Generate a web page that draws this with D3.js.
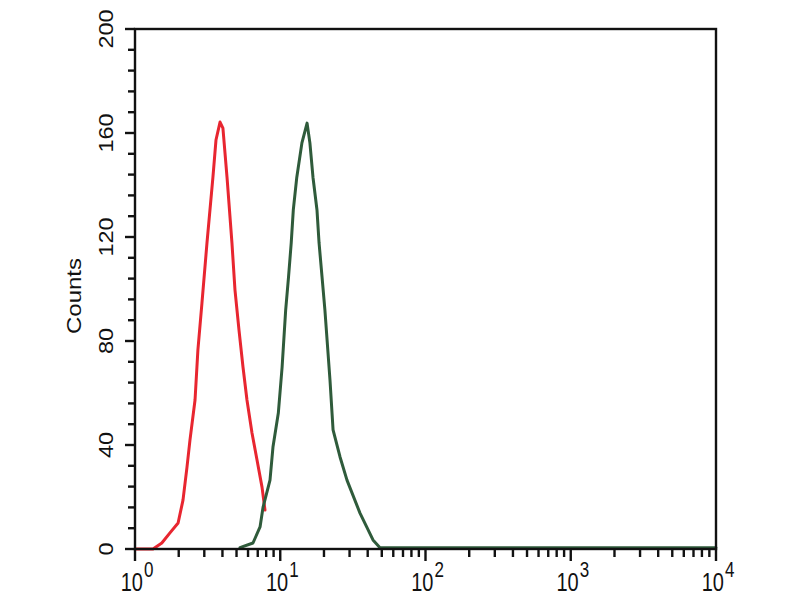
<!DOCTYPE html>
<html>
<head>
<meta charset="utf-8">
<script src="https://cdn.jsdelivr.net/npm/d3@7/dist/d3.min.js"></script>
<style>
  html, body { margin: 0; padding: 0; background: #fff; }
  svg { display: block; font-family: "Liberation Sans", Arial, sans-serif; }
</style>
</head>
<body>
<svg id="chart" width="800" height="600"></svg>
<script>
// Fluorescence intensity (x) and counts (y)
const redX = [1.00, 1.33, 1.53, 1.74, 1.98, 2.14, 2.28, 2.39, 2.59, 2.71, 2.89, 3.13, 3.44, 3.61, 3.85, 4.03, 4.30, 4.65, 4.88, 5.20, 5.54, 5.90, 6.39, 6.92, 7.49, 7.85];
const redY = [0, 0, 2.3, 6.2, 10, 18.8, 31.5, 41.9, 57.3, 76.5, 94.6, 117.7, 143, 157.3, 164.2, 161.9, 143, 117.7, 99.6, 84.2, 70, 57.3, 44.6, 34.2, 23.8, 15];

const greenX = [5.28, 6.49, 7.26, 7.61, 8.50, 8.91, 9.70, 10.3, 10.9, 11.4, 11.9, 12.3, 13.0, 14.1, 15.3, 16.0, 16.8, 17.9, 18.5, 19.4, 20.3, 22.0, 23.1, 25.8, 28.8, 35.4, 43.5, 48.6, 100, 1000, 10000];
const greenY = [0.5, 2.3, 8.5, 16, 26.5, 39.2, 52.3, 70, 92, 104.6, 117.7, 130.4, 143, 156.2, 163.8, 156.2, 143, 130.4, 117.7, 104.6, 91.9, 65, 45.8, 35.4, 26.5, 13.8, 3.5, 0.5, 0.5, 0.5, 0.5];

const yTicks = [0, 40, 80, 120, 160, 200];
const xDecades = [0, 1, 2, 3, 4];
const yLabel = "Counts";

(function () {
const svg = d3.select("#chart");
const pL = 135, pR = 716, pT = 29, pB = 549;

const x = d3.scaleLog().domain([1, 10000]).range([pL, pR]);
const y = d3.scaleLinear().domain([0, 200]).range([pB, pT]);

// Curves
const line = d3.line().x(d => x(d[0])).y(d => y(d[1]));
svg.append("path")
  .datum(redX.map((v, i) => [v, redY[i]]))
  .attr("d", line).attr("fill", "none")
  .attr("stroke", "#e82630").attr("stroke-width", 3)
  .attr("stroke-linejoin", "round").attr("stroke-linecap", "round");
svg.append("path")
  .datum(greenX.map((v, i) => [v, greenY[i]]))
  .attr("d", line).attr("fill", "none")
  .attr("stroke", "#2f5b3b").attr("stroke-width", 3)
  .attr("stroke-linejoin", "round").attr("stroke-linecap", "round");

// Frame
svg.append("rect")
  .attr("x", pL).attr("y", pT)
  .attr("width", pR - pL).attr("height", pB - pT)
  .attr("fill", "none").attr("stroke", "#111").attr("stroke-width", 2.4);

// Y axis ticks (minor every 8)
const yMinor = d3.range(0, 201, 8);
svg.append("g").selectAll("line").data(yMinor).join("line")
  .attr("x1", pL).attr("x2", d => yTicks.includes(d) ? pL - 10 : pL - 7)
  .attr("y1", d => y(d)).attr("y2", d => y(d))
  .attr("stroke", "#111").attr("stroke-width", 2.4);

svg.append("g").selectAll("text").data(yTicks).join("text")
  .attr("transform", d => `translate(113,${y(d)}) rotate(-90) scale(1.12,1)`)
  .attr("text-anchor", "middle")
  .attr("font-size", 21)
  .attr("fill", "#111")
  .text(d => d);

svg.append("text")
  .attr("transform", `translate(81,296) rotate(-90) scale(1.2,1)`)
  .attr("text-anchor", "middle")
  .attr("font-size", 20)
  .attr("fill", "#111")
  .text(yLabel);

// X axis ticks (log minor)
const xMinor = [];
for (let e = 0; e < 4; e++) for (let m = 1; m <= 9; m++) xMinor.push(m * Math.pow(10, e));
xMinor.push(10000);
svg.append("g").selectAll("line").data(xMinor).join("line")
  .attr("x1", d => x(d)).attr("x2", d => x(d))
  .attr("y1", pB)
  .attr("y2", d => Math.abs(Math.log10(d) % 1) < 1e-9 ? pB + 12 : pB + 8)
  .attr("stroke", "#111").attr("stroke-width", 2.4);

const xl = svg.append("g").selectAll("text").data(xDecades).join("text")
  .attr("transform", d => `translate(${x(Math.pow(10, d)) + 2},591) scale(1,1.25)`)
  .attr("text-anchor", "middle")
  .attr("font-size", 20)
  .attr("fill", "#111");
xl.append("tspan").text("10");
xl.append("tspan").attr("dy", -11).attr("dx", 1).attr("font-size", 17).text(d => d);
})();
</script>
</body>
</html>
